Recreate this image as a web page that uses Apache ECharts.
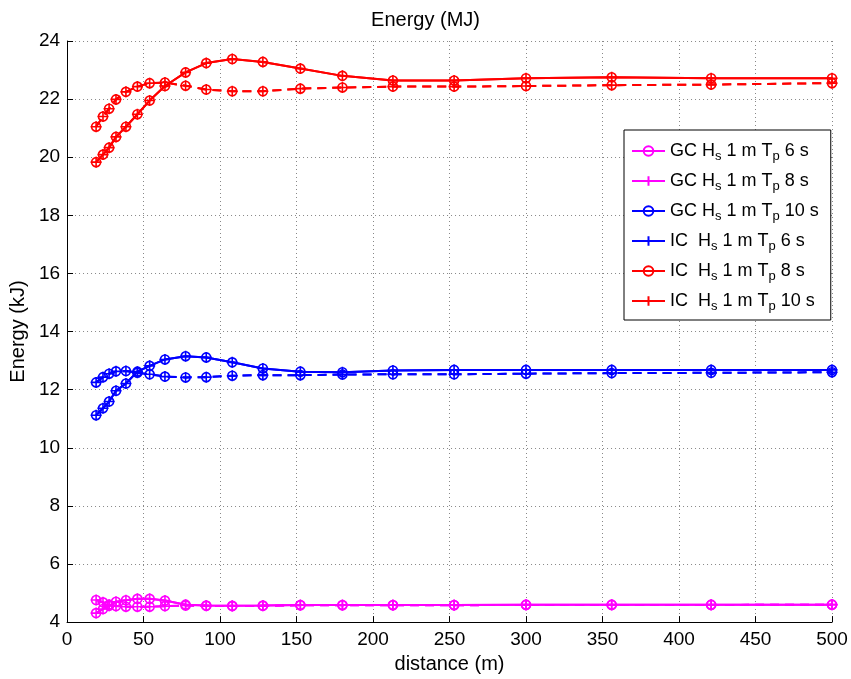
<!DOCTYPE html>
<html>
<head>
<meta charset="utf-8">
<script src="https://cdn.jsdelivr.net/npm/echarts@6/dist/echarts.min.js"></script>
<style>
html,body{margin:0;padding:0;background:#fff;}
#chart{width:851px;height:679px;}
</style>
</head>
<body>
<div id="chart"></div>
<script>
var distance = [19, 23.5, 27.5, 32, 38.5, 46, 54, 64, 77.5, 91, 108, 128, 152.5, 180, 213, 253, 300, 356, 421, 500];

var magentaSolid = [4.31, 4.45, 4.56, 4.70, 4.75, 4.80, 4.80, 4.74, 4.60, 4.57, 4.56, 4.57, 4.59, 4.59, 4.59, 4.59, 4.60, 4.60, 4.60, 4.60];
var magentaDashed = [4.76, 4.68, 4.60, 4.55, 4.53, 4.53, 4.53, 4.55, 4.57, 4.56, 4.55, 4.56, 4.58, 4.58, 4.58, 4.58, 4.59, 4.59, 4.59, 4.60];

var blueSolid = [11.12, 11.36, 11.59, 11.96, 12.21, 12.62, 12.82, 13.04, 13.15, 13.11, 12.94, 12.73, 12.62, 12.60, 12.66, 12.68, 12.68, 12.68, 12.68, 12.68];
var blueDashed = [12.25, 12.43, 12.55, 12.63, 12.64, 12.58, 12.53, 12.45, 12.42, 12.43, 12.48, 12.50, 12.50, 12.52, 12.53, 12.53, 12.55, 12.57, 12.58, 12.60];

var redSolid = [19.83, 20.09, 20.33, 20.70, 21.05, 21.48, 21.95, 22.45, 22.92, 23.24, 23.38, 23.28, 23.05, 22.80, 22.64, 22.64, 22.72, 22.75, 22.72, 22.72];
var redDashed = [21.05, 21.40, 21.67, 21.99, 22.25, 22.43, 22.55, 22.57, 22.46, 22.33, 22.27, 22.27, 22.36, 22.40, 22.43, 22.43, 22.45, 22.48, 22.50, 22.55];

var legendNames = [
  'GC H_s 1 m T_p 6 s',
  'GC H_s 1 m T_p 8 s',
  'GC H_s 1 m T_p 10 s',
  'IC  H_s 1 m T_p 6 s',
  'IC  H_s 1 m T_p 8 s',
  'IC  H_s 1 m T_p 10 s'
];

var titleText = 'Energy (MJ)';
var xName = 'distance (m)';
var yName = 'Energy (kJ)';

var FONT = '"Liberation Sans", Arial, Helvetica, sans-serif';
var colors = ['#ff00ff', '#0000ff', '#ff0000'];
var solidSets = [magentaSolid, blueSolid, redSolid];
var dashedSets = [magentaDashed, blueDashed, redDashed];
var PLUS = 'path://M0,5L10,5M5,0L5,10';

function pairs(ys) {
  return distance.map(function (x, i) { return [x, ys[i]]; });
}

function mkSeries(name, color, ys, dashed, marker) {
  var isPlus = marker === 'plus';
  return {
    name: name,
    type: 'line',
    data: pairs(ys),
    color: color,
    symbol: isPlus ? PLUS : 'circle',
    symbolSize: isPlus ? 11 : 9,
    showAllSymbol: true,
    lineStyle: { color: color, width: 2, type: dashed ? [9, 6] : 'solid' },
    itemStyle: { color: isPlus ? color : 'rgba(255,255,255,0)', borderColor: color, borderWidth: 1.6 },
    emphasis: { disabled: true },
    animation: false
  };
}

var series = [];
for (var c = 0; c < 3; c++) {
  series.push(mkSeries(legendNames[2 * c], colors[c], solidSets[c], false, 'circle'));
  series.push(mkSeries(legendNames[2 * c + 1], colors[c], solidSets[c], false, 'plus'));
}
for (var c2 = 0; c2 < 3; c2++) {
  series.push(mkSeries(legendNames[2 * c2], colors[c2], dashedSets[c2], true, 'circle'));
  series.push(mkSeries(legendNames[2 * c2 + 1], colors[c2], dashedSets[c2], true, 'plus'));
}

var chart = echarts.init(document.getElementById('chart'), null, { renderer: 'canvas' });
chart.setOption({
  backgroundColor: '#fff',
  animation: false,
  title: {
    text: titleText,
    left: 'center',
    top: 5,
    textStyle: { fontFamily: FONT, fontSize: 20, fontWeight: 'normal', color: '#000' }
  },
  grid: { left: 65, right: 19, top: 41, bottom: 51, containLabel: false },
  legend: {
    orient: 'vertical',
    left: 624,
    top: 130,
    itemWidth: 33,
    itemHeight: 12,
    itemGap: 9,
    padding: [12, 12, 7, 7],
    backgroundColor: '#fff',
    borderColor: '#000',
    borderWidth: 1,
    borderRadius: 0,
    selectedMode: false,
    data: legendNames,
    formatter: function (name) {
      return '{t|' + name.replace(/_(\w)/g, '}{s|$1}{t|') + '}';
    },
    textStyle: {
      fontFamily: FONT,
      color: '#000',
      rich: {
        t: { fontFamily: FONT, fontSize: 18, color: '#000', lineHeight: 24, verticalAlign: 'middle' },
        s: { fontFamily: FONT, fontSize: 13, color: '#000', lineHeight: 24, verticalAlign: 'bottom' }
      }
    }
  },
  xAxis: {
    type: 'value',
    min: 0,
    max: 500,
    interval: 50,
    name: xName,
    nameLocation: 'middle',
    nameGap: 30,
    nameTextStyle: { fontFamily: FONT, fontSize: 20, color: '#000' },
    axisLine: { show: true, onZero: false, lineStyle: { color: '#000', width: 1 } },
    axisTick: { show: true, inside: true, length: 6, lineStyle: { color: '#000' } },
    axisLabel: { fontFamily: FONT, fontSize: 19, color: '#000', margin: 8 },
    splitLine: { show: true, lineStyle: { color: '#888', type: [1, 3], width: 1 } }
  },
  yAxis: {
    type: 'value',
    min: 4,
    max: 24,
    interval: 2,
    name: yName,
    nameLocation: 'middle',
    nameGap: 34,
    nameTextStyle: { fontFamily: FONT, fontSize: 20, color: '#000' },
    axisLine: { show: true, lineStyle: { color: '#000', width: 1 } },
    axisTick: { show: true, inside: true, length: 6, lineStyle: { color: '#000' } },
    axisLabel: { fontFamily: FONT, fontSize: 19, color: '#000', margin: 7 },
    splitLine: { show: true, lineStyle: { color: '#888', type: [1, 3], width: 1 } }
  },
  series: series
});
</script>
</body>
</html>
